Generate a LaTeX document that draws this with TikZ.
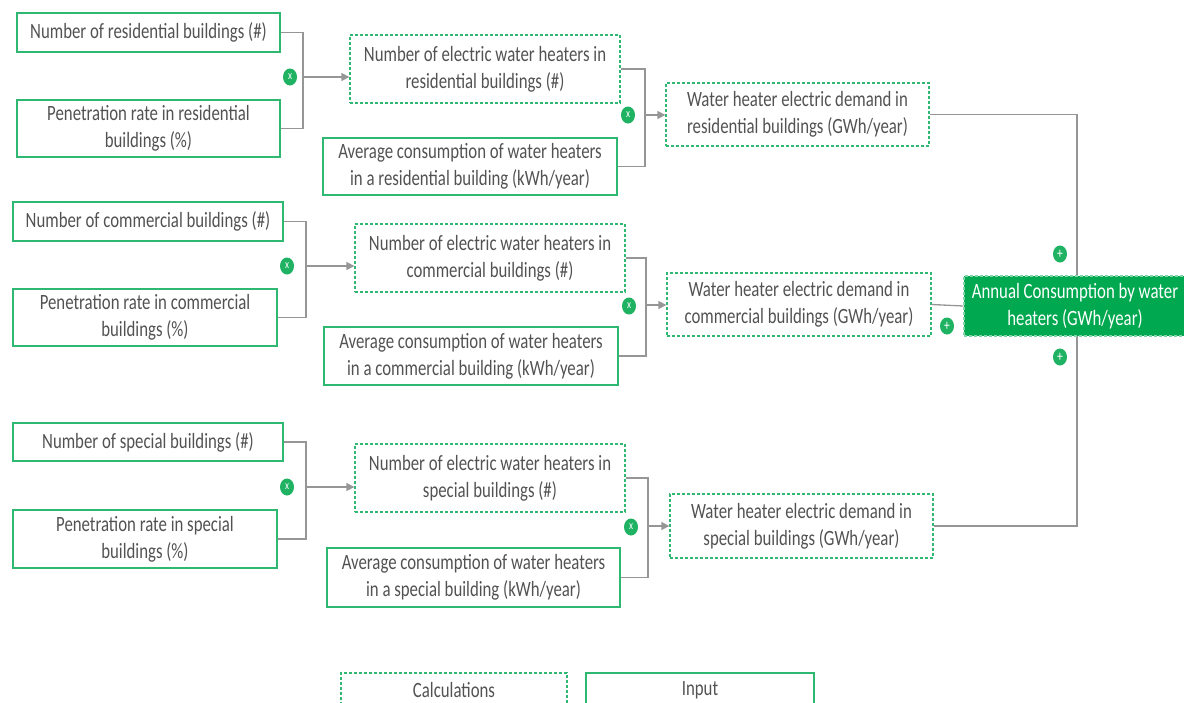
\documentclass[tikz,border=0pt]{standalone}
\usepackage{fontspec}
\setmainfont{Carlito}[FakeStretch=0.77]
\usetikzlibrary{arrows.meta,shapes.geometric}
\definecolor{bgreen}{RGB}{46,184,114}
\definecolor{fgreen}{RGB}{0,168,80}
\definecolor{ogreen}{RGB}{30,178,98}
\definecolor{tgray}{RGB}{82,82,82}
\definecolor{cgray}{RGB}{150,150,150}
\tikzset{
  txt/.style={text=tgray, align=center, inner sep=0pt, font=\fontsize{21.8}{27}\selectfont},
  inbox/.style={txt, draw=bgreen, line width=1.4pt},
  calcbox/.style={txt, draw=bgreen, line width=1.3pt, dash pattern=on 3pt off 2pt},
  finalbox/.style={txt, text=white, fill=fgreen, draw=bgreen!60, line width=1.2pt, dash pattern=on 3pt off 2pt},
  conn/.style={draw=cgray, line width=1.3pt},
  arr/.style={conn, -{Triangle[length=8pt,width=8pt]}},
  op/.style={ellipse, fill=ogreen, minimum width=14pt, minimum height=17pt, inner sep=0pt, text=white, font=\fontsize{12}{12}\selectfont},
}
\begin{document}
\begin{tikzpicture}[x=1pt,y=-1pt]
\useasboundingbox (0,0) rectangle (1184,702);
% residential
\node[inbox, minimum width=263, minimum height=39] (N1) at (148.5,32.5) {Number of residential buildings (\#)};
\node[inbox, minimum width=263, minimum height=57] (P1) at (148.5,128.5) {Penetration rate in residential\\buildings (\%)};
\node[calcbox, minimum width=270, minimum height=68] (C1) at (485,69) {Number of electric water heaters in\\residential buildings (\#)};
\node[inbox, minimum width=294, minimum height=57] (A1) at (470,166.5) {Average consumption of water heaters\\in a residential building (kWh/year)};
\node[calcbox, minimum width=263, minimum height=63] (D1) at (797.5,114.5) {Water heater electric demand in\\residential buildings (GWh/year)};
% commercial
\node[inbox, minimum width=270, minimum height=39] (N2) at (148,221.5) {Number of commercial buildings (\#)};
\node[inbox, minimum width=264, minimum height=57] (P2) at (145,317.5) {Penetration rate in commercial\\buildings (\%)};
\node[calcbox, minimum width=270, minimum height=68] (C2) at (490,258) {Number of electric water heaters in\\commercial buildings (\#)};
\node[inbox, minimum width=294, minimum height=58] (A2) at (471,356) {Average consumption of water heaters\\in a commercial building (kWh/year)};
\node[calcbox, minimum width=264, minimum height=63] (D2) at (799,304.5) {Water heater electric demand in\\commercial buildings (GWh/year)};
% special
\node[inbox, minimum width=270, minimum height=38] (N3) at (148,442) {Number of special buildings (\#)};
\node[inbox, minimum width=264, minimum height=58] (P3) at (145,539) {Penetration rate in special\\buildings (\%)};
\node[calcbox, minimum width=270, minimum height=68] (C3) at (490,478) {Number of electric water heaters in\\special buildings (\#)};
\node[inbox, minimum width=293, minimum height=59] (A3) at (473.5,577.5) {Average consumption of water heaters\\in a special building (kWh/year)};
\node[calcbox, minimum width=263, minimum height=64] (D3) at (801.5,526) {Water heater electric demand in\\special buildings (GWh/year)};
% junctions
\coordinate (j1) at (303,77);
\coordinate (k1) at (645,115);
\coordinate (j2) at (306,266);
\coordinate (k2) at (646,305);
\coordinate (j3) at (306,487);
\coordinate (k3) at (648,526);
\coordinate (bus) at (1077,306);
\draw[conn] (N1.east) -| (j1) |- (P1.east);
\draw[arr] (j1) -- (j1 -| C1.west);
\draw[conn] (C1.east) -| (k1) |- (A1.east);
\draw[arr] (k1) -- (k1 -| D1.west);
\draw[conn] (N2.east) -| (j2) |- (P2.east);
\draw[arr] (j2) -- (j2 -| C2.west);
\draw[conn] (C2.east) -| (k2) |- (A2.east);
\draw[arr] (k2) -- (k2 -| D2.west);
\draw[conn] (N3.east) -| (j3) |- (P3.east);
\draw[arr] (j3) -- (j3 -| C3.west);
\draw[conn] (C3.east) -| (k3) |- (A3.east);
\draw[arr] (k3) -- (k3 -| D3.west);
\draw[conn] (D1.east) -| (bus) |- (D3.east);
% final
\node[finalbox, minimum width=222, minimum height=60] (F) at (1075,306) {Annual Consumption by water\\heaters (GWh/year)};
\draw[conn] (D2.east) -- (F.west);
% operators
\node[op] (x1) at (290,77) {x};
\node[op] (x2) at (628,115) {x};
\node[op] (x3) at (287,266) {x};
\node[op] (x4) at (629,306) {x};
\node[op] (x5) at (287,487) {x};
\node[op] (x6) at (631,527) {x};
\node[op, font=\fontsize{15}{15}\selectfont] (p1) at (1060,254) {+};
\node[op, font=\fontsize{15}{15}\selectfont] (p2) at (947,326) {+};
\node[op, font=\fontsize{15}{15}\selectfont] (p3) at (1060,357) {+};
% legend
\node[calcbox, minimum width=226, minimum height=34] (LC) at (454,690) {Calculations};
\node[inbox, minimum width=228, minimum height=34] (LI) at (700,690) {Input};
\end{tikzpicture}
\end{document}
